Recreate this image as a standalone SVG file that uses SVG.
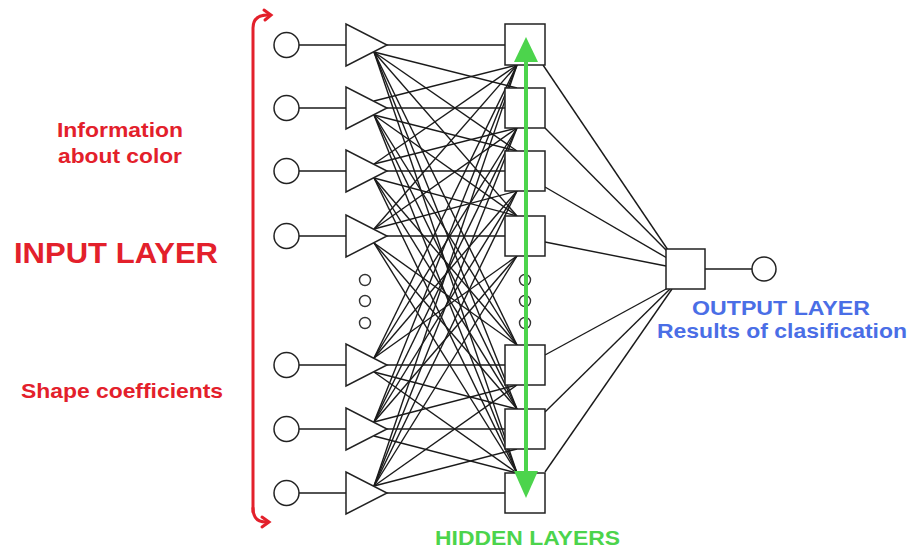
<svg xmlns="http://www.w3.org/2000/svg" width="911" height="550" viewBox="0 0 911 550">
<style>
.n{fill:#fff;stroke:#222;stroke-width:1.5}
.c line{stroke:#1a1a1a;stroke-width:1.4}
.d{fill:#fff;stroke:#333;stroke-width:1.4}
.t{font-family:"Liberation Sans",Arial,sans-serif;font-weight:bold}
.red{fill:#e3202b}.grn{fill:#4cd44c}.blu{fill:#4a6ee6}
</style>
<rect width="911" height="550" fill="#fff"/>
<g id="connectors" class="c">
<line x1="299" y1="45" x2="346" y2="45"/><line x1="299" y1="108" x2="346" y2="108"/><line x1="299" y1="171" x2="346" y2="171"/><line x1="299" y1="236" x2="346" y2="236"/><line x1="299" y1="365" x2="346" y2="365"/><line x1="299" y1="429" x2="346" y2="429"/><line x1="299" y1="493" x2="346" y2="493"/>
<line x1="387" y1="45" x2="505" y2="45"/><line x1="374" y1="52" x2="517" y2="88"/><line x1="374" y1="52" x2="517" y2="151"/><line x1="374" y1="52" x2="517" y2="216"/><line x1="374" y1="52" x2="517" y2="345"/><line x1="374" y1="52" x2="517" y2="409"/><line x1="374" y1="52" x2="517" y2="473"/>
<line x1="374" y1="101" x2="517" y2="65"/><line x1="387" y1="108" x2="505" y2="108"/><line x1="374" y1="115" x2="517" y2="151"/><line x1="374" y1="115" x2="517" y2="216"/><line x1="374" y1="115" x2="517" y2="345"/><line x1="374" y1="115" x2="517" y2="409"/><line x1="374" y1="115" x2="517" y2="473"/>
<line x1="374" y1="164" x2="517" y2="65"/><line x1="374" y1="164" x2="517" y2="128"/><line x1="387" y1="171" x2="505" y2="171"/><line x1="374" y1="178" x2="517" y2="216"/><line x1="374" y1="178" x2="517" y2="345"/><line x1="374" y1="178" x2="517" y2="409"/><line x1="374" y1="178" x2="517" y2="473"/>
<line x1="374" y1="229" x2="517" y2="65"/><line x1="374" y1="229" x2="517" y2="128"/><line x1="374" y1="229" x2="517" y2="191"/><line x1="387" y1="236" x2="505" y2="236"/><line x1="374" y1="243" x2="517" y2="345"/><line x1="374" y1="243" x2="517" y2="409"/><line x1="374" y1="243" x2="517" y2="473"/>
<line x1="374" y1="358" x2="517" y2="65"/><line x1="374" y1="358" x2="517" y2="128"/><line x1="374" y1="358" x2="517" y2="191"/><line x1="374" y1="358" x2="517" y2="256"/><line x1="387" y1="365" x2="505" y2="365"/><line x1="374" y1="372" x2="517" y2="409"/><line x1="374" y1="372" x2="517" y2="473"/>
<line x1="374" y1="422" x2="517" y2="65"/><line x1="374" y1="422" x2="517" y2="128"/><line x1="374" y1="422" x2="517" y2="191"/><line x1="374" y1="422" x2="517" y2="256"/><line x1="374" y1="422" x2="517" y2="385"/><line x1="387" y1="429" x2="505" y2="429"/><line x1="374" y1="436" x2="517" y2="473"/>
<line x1="374" y1="486" x2="517" y2="65"/><line x1="374" y1="486" x2="517" y2="128"/><line x1="374" y1="486" x2="517" y2="191"/><line x1="374" y1="486" x2="517" y2="256"/><line x1="374" y1="486" x2="517" y2="385"/><line x1="374" y1="486" x2="517" y2="449"/><line x1="387" y1="493" x2="505" y2="493"/>
<line x1="543" y1="65" x2="668" y2="250"/><line x1="545" y1="128" x2="668" y2="252"/><line x1="545" y1="187" x2="667" y2="258"/><line x1="545" y1="242" x2="666" y2="266"/><line x1="545" y1="355" x2="668" y2="288"/><line x1="545" y1="412" x2="670" y2="289"/><line x1="545" y1="472" x2="672" y2="289"/>
<line x1="705" y1="269" x2="752" y2="269"/>
</g>
<g id="inputs">
<circle class="n" cx="286.5" cy="45" r="12.5"/><circle class="n" cx="286.5" cy="108" r="12.5"/><circle class="n" cx="286.5" cy="171" r="12.5"/><circle class="n" cx="286.5" cy="236" r="12.5"/><circle class="n" cx="286.5" cy="365" r="12.5"/><circle class="n" cx="286.5" cy="429" r="12.5"/><circle class="n" cx="286.5" cy="493" r="12.5"/>
</g>
<g id="triangles">
<polygon class="n" points="346,24 346,66 387,45"/><polygon class="n" points="346,87 346,129 387,108"/><polygon class="n" points="346,150 346,192 387,171"/><polygon class="n" points="346,215 346,257 387,236"/><polygon class="n" points="346,344 346,386 387,365"/><polygon class="n" points="346,408 346,450 387,429"/><polygon class="n" points="346,472 346,514 387,493"/>
</g>
<g id="dots-left">
<circle class="d" cx="365" cy="280" r="5.5"/><circle class="d" cx="365" cy="301" r="5.5"/><circle class="d" cx="365" cy="323" r="5.5"/>
</g>
<g id="hidden">
<rect class="n" x="505" y="24" width="40" height="41"/><rect class="n" x="505" y="88" width="40" height="40"/><rect class="n" x="505" y="151" width="40" height="40"/><rect class="n" x="505" y="216" width="40" height="40"/><rect class="n" x="505" y="345" width="40" height="40"/><rect class="n" x="505" y="409" width="40" height="40"/><rect class="n" x="505" y="473" width="40" height="40"/>
</g>
<g id="dots-right">
<circle class="d" cx="525" cy="280" r="5.5"/><circle class="d" cx="525" cy="301" r="5.5"/><circle class="d" cx="525" cy="323" r="5.5"/>
</g>
<g id="output">
<rect class="n" x="666" y="249" width="39" height="40"/>
<circle class="n" cx="764" cy="269" r="12"/>
</g>
<g id="hidden-arrow">
<line x1="526" y1="58" x2="526" y2="473" stroke="#4cd44c" stroke-width="4"/>
<polygon points="526,37 514,62 538,62" fill="#4cd44c"/>
<polygon points="526,498 514,471 538,471" fill="#4cd44c"/>
</g>
<g id="input-brace" fill="none" stroke="#e3202b" stroke-width="3" stroke-linecap="round">
<path d="M253 512 L253 28 Q253 15 268 15"/>
<path d="M264 10 L271 15 L265 20"/>
<path d="M253 508 Q253 522 266 522"/>
<path d="M262 517 L269 522 L262 527"/>
</g>
<g id="labels" class="t">
<text class="red" x="57" y="137" font-size="21" textLength="126" lengthAdjust="spacingAndGlyphs">Information</text>
<text class="red" x="58" y="163" font-size="21" textLength="124" lengthAdjust="spacingAndGlyphs">about color</text>
<text class="red" x="14" y="263" font-size="30" textLength="204" lengthAdjust="spacingAndGlyphs">INPUT LAYER</text>
<text class="red" x="21" y="398" font-size="21" textLength="202" lengthAdjust="spacingAndGlyphs">Shape coefficients</text>
<text class="grn" x="435" y="545" font-size="21" textLength="185" lengthAdjust="spacingAndGlyphs">HIDDEN LAYERS</text>
<text class="blu" x="692" y="315" font-size="21" textLength="178" lengthAdjust="spacingAndGlyphs">OUTPUT LAYER</text>
<text class="blu" x="657" y="338" font-size="21" textLength="250" lengthAdjust="spacingAndGlyphs">Results of clasification</text>
</g>
</svg>
